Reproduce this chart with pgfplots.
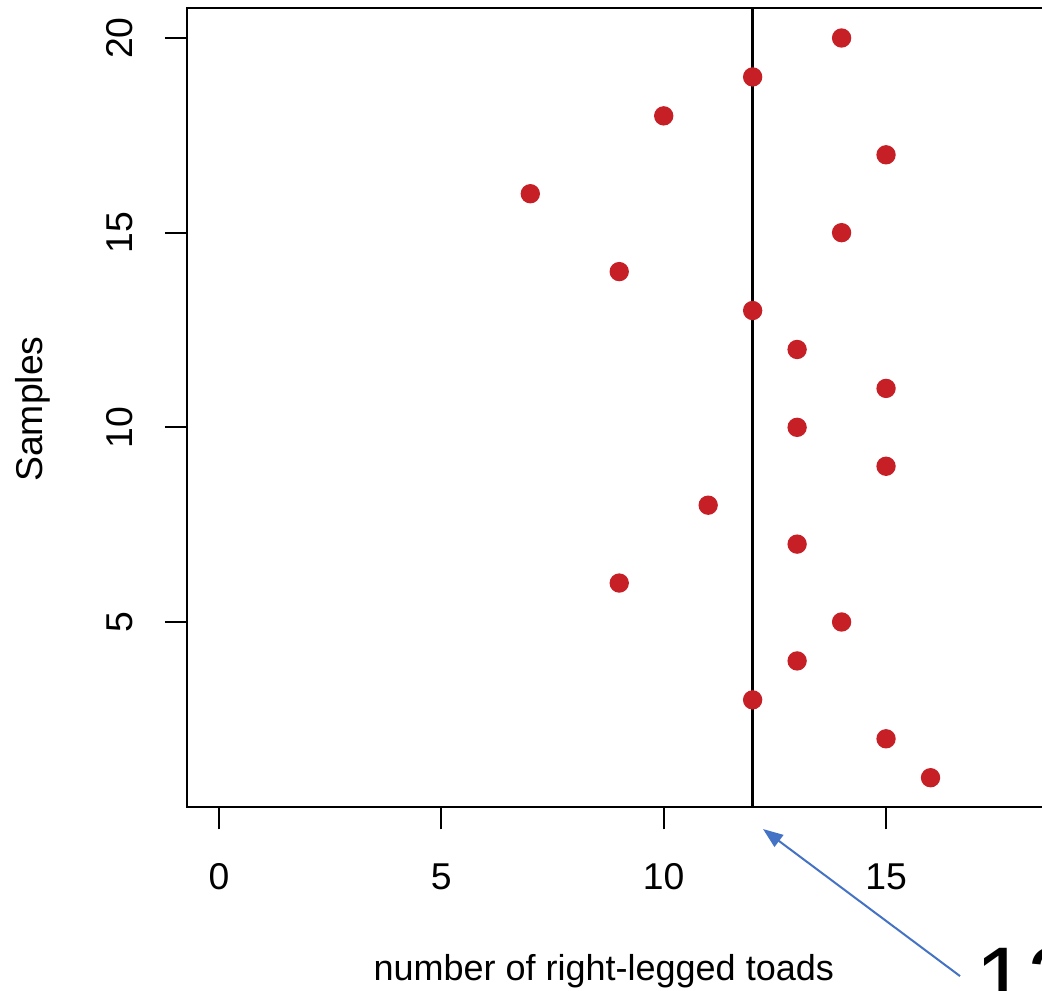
\documentclass[border=0pt]{standalone}
\usepackage{pgfplots}
\pgfplotsset{compat=1.18}
\usepackage{fontspec}
\setmainfont{Liberation Sans}
\usetikzlibrary{arrows.meta}
\definecolor{dotred}{RGB}{198,31,38}
\definecolor{arrowblue}{RGB}{68,114,196}
\begin{document}
\begin{tikzpicture}
\begin{axis}[
  x=13.34pt, y=11.679pt,
  xmin=-0.72, xmax=18.72, ymin=0.24, ymax=20.76,
  axis line style={line width=0.6pt},
  xtick={0,5,10,15}, ytick={5,10,15,20},
  xtick pos=left, ytick pos=left,
  tick align=outside, major tick length=6.6pt,
  every tick/.style={black, line width=0.6pt},
  /pgf/number format/assume math mode=true,
  tick label style={font=\fontsize{11.2}{13}\selectfont, inner sep=0pt},
  xticklabel style={anchor=base, yshift=-18pt},
  yticklabel style={rotate=90, anchor=base, yshift=9.6pt},
  xlabel={number of right-legged toads},
  ylabel={Samples},
  label style={font=\fontsize{11.2}{13}\selectfont, inner sep=0pt},
  xlabel style={at={(axis description cs:0.4821,-0.2162)}, anchor=base, font=\fontsize{10.8}{13}\selectfont},
  ylabel style={at={(axis description cs:-0.1677,0.4985)}, anchor=base},
  clip=false,
]
\addplot[black, line width=1pt] coordinates {(12,0.24) (12,20.76)};
\addplot[only marks, mark=*, mark size=2.7pt, draw=dotred, fill=dotred] table {
x y
16 1
15 2
12 3
13 4
14 5
9 6
13 7
11 8
15 9
13 10
15 11
13 12
12 13
9 14
14 15
7 16
15 17
10 18
12 19
14 20
};
\draw[arrowblue, line width=0.6pt, -{Triangle[length=6pt, width=4.4pt]}] (axis cs:16.663,-4.095) -- (axis cs:12.233,-0.318);
\node[anchor=base west, inner sep=0pt, font=\fontsize{28}{30}\selectfont] at (axis cs:17.0,-5.02) {12};
\coordinate (bl) at (axis cs:-4.9247,-4.4542);
\coordinate (tr) at (axis cs:18.507,20.976);
\end{axis}
\pgfresetboundingbox
\useasboundingbox (bl) rectangle (tr);
\end{tikzpicture}
\end{document}
